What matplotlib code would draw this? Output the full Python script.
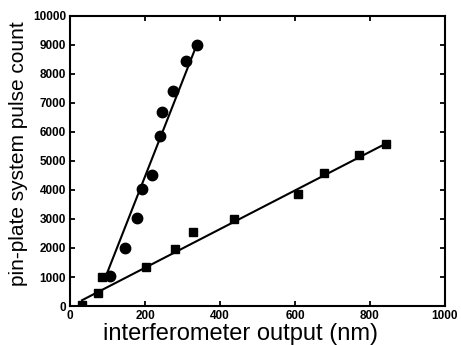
import numpy as np
import matplotlib
matplotlib.use("Agg")
import matplotlib.pyplot as plt

plt.rcParams['font.family'] = ['Liberation Sans', 'DejaVu Sans']

# circles: steep series
circle_x = [107, 147, 179, 192, 219, 240, 245, 275, 309, 339]
circle_y = [1040, 2000, 3050, 4050, 4530, 5850, 6680, 7400, 8440, 9000]

# squares: shallow series
square_x = [32, 75, 85, 203, 280, 328, 437, 608, 677, 771, 843]
square_y = [35, 450, 1000, 1350, 1970, 2560, 3010, 3870, 4570, 5190, 5600]

# straight line fits (slope, intercept, x range)
circle_fit = (32.9, -2115, 99, 340)
square_fit = (6.66, -13, 32, 843)

fig = plt.figure(figsize=(4.61, 3.45), dpi=100)
ax = fig.add_axes([0.152, 0.113, 0.813, 0.841])

for slope, icpt, x0, x1 in (circle_fit, square_fit):
    xs = np.array([x0, x1])
    ax.plot(xs, slope * xs + icpt, color='black', lw=1.5, zorder=2)

ax.plot(circle_x, circle_y, 'o', color='black', ms=7.5, zorder=3)
ax.plot(square_x, square_y, 's', color='black', ms=6, zorder=3)

ax.set_xlim(0, 1000)
ax.set_ylim(0, 10000)
ax.set_xticks(np.arange(0, 1001, 200))
ax.set_yticks(np.arange(0, 10001, 1000))
ax.tick_params(direction='in', length=3.5, width=1.3, top=True, right=True,
               labelsize=8.5, pad=3)
for lab in ax.get_xticklabels() + ax.get_yticklabels():
    lab.set_fontweight('bold')
for sp in ax.spines.values():
    sp.set_linewidth(1.5)

ax.set_xlabel('interferometer output (nm)', fontsize=17)
ax.set_ylabel('pin-plate system pulse count', fontsize=15)
ax.xaxis.set_label_coords(0.455, -0.058)
ax.yaxis.set_label_coords(-0.112, 0.525)

fig.savefig('out.png', dpi=100)
